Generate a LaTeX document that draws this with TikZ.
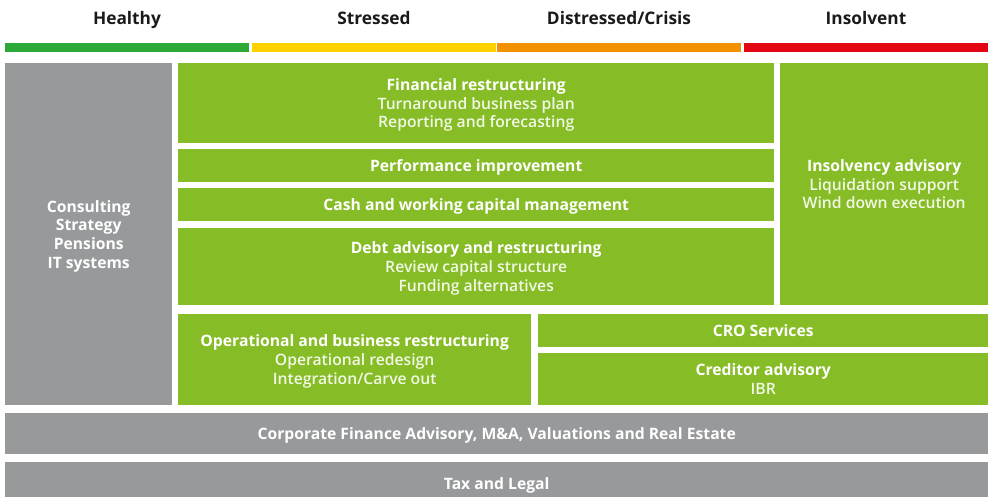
\documentclass[tikz,border=0pt]{standalone}
\usepackage{fontspec}
\setmainfont{Open Sans}
\newfontfamily\lightfont{Open Sans Light}
\definecolor{dgreen}{HTML}{86BC25}
\definecolor{dgrey}{HTML}{97999B}
\definecolor{hgreen}{HTML}{2DA937}
\definecolor{hyellow}{HTML}{FFD100}
\definecolor{horange}{HTML}{F39200}
\definecolor{hred}{HTML}{E30613}
\definecolor{htext}{HTML}{1A1A1A}
\definecolor{subtext}{HTML}{F2F8E6}
\newcommand\subl[1]{{\lightfont\color{subtext}#1}}
\begin{document}
\begin{tikzpicture}[x=1pt,y=-1pt,
  base/.style={draw=none, inner sep=0pt, anchor=north west, align=center, text=white,
    text depth=0pt, font=\fontsize{15.7}{18.7}\selectfont\bfseries},
  gbox/.style={base, fill=dgreen},
  gybox/.style={base, fill=dgrey},
  hbar/.style={draw=none, inner sep=0pt, anchor=north west, minimum height=9pt},
  hlabel/.style={text=htext, anchor=base, inner sep=0pt, font=\fontsize{17.3}{20}\selectfont\bfseries}]
\useasboundingbox (0,0) rectangle (992,497);
% header
\node[hlabel] (lh) at (127,25) {Healthy};
\node[hlabel] (ls) at (374,25) {Stressed};
\node[hlabel] (ld) at (619,25) {Distressed/Crisis};
\node[hlabel] (li) at (866,25) {Insolvent};
\node[hbar, fill=hgreen, minimum width=244pt] (bh) at (5,43) {};
\node[hbar, fill=hyellow, minimum width=244pt] (bs) at (252,43) {};
\node[hbar, fill=horange, minimum width=244pt] (bd) at (497,43) {};
\node[hbar, fill=hred, minimum width=244pt] (bi) at (744,43) {};
% left column
\node[gybox, minimum width=167pt, minimum height=342pt] (cons) at (5,63)
  {Consulting\\Strategy\\Pensions\\IT systems};
% main column
\node[gbox, minimum width=596pt, minimum height=80pt] (fin) at (178,63)
  {Financial restructuring\\\subl{Turnaround business plan}\\\subl{Reporting and forecasting}};
\node[gbox, minimum width=596pt, minimum height=33pt] (perf) at (178,149)
  {Performance improvement};
\node[gbox, minimum width=596pt, minimum height=33pt] (cash) at (178,188)
  {Cash and working capital management};
\node[gbox, minimum width=596pt, minimum height=77pt] (debt) at (178,228)
  {Debt advisory and restructuring\\\subl{Review capital structure}\\\subl{Funding alternatives}};
\node[gbox, minimum width=208pt, minimum height=242pt] (insol) at (780,63)
  {Insolvency advisory\\\subl{Liquidation support}\\\subl{Wind down execution}};
\node[gbox, minimum width=353pt, minimum height=91pt] (oper) at (178,314)
  {Operational and business restructuring\\\subl{Operational redesign}\\\subl{Integration/Carve out}};
\node[gbox, minimum width=450pt, minimum height=33pt] (cro) at (538,314)
  {CRO Services};
\node[gbox, minimum width=450pt, minimum height=52pt] (cred) at (538,353)
  {Creditor advisory\\\subl{IBR}};
% bottom rows
\node[gybox, minimum width=983pt, minimum height=41pt] (corp) at (5,413)
  {Corporate Finance Advisory, M\&A, Valuations and Real Estate};
\node[gybox, minimum width=983pt, minimum height=43pt] (tax) at (5,462)
  {Tax and Legal};
\end{tikzpicture}
\end{document}
